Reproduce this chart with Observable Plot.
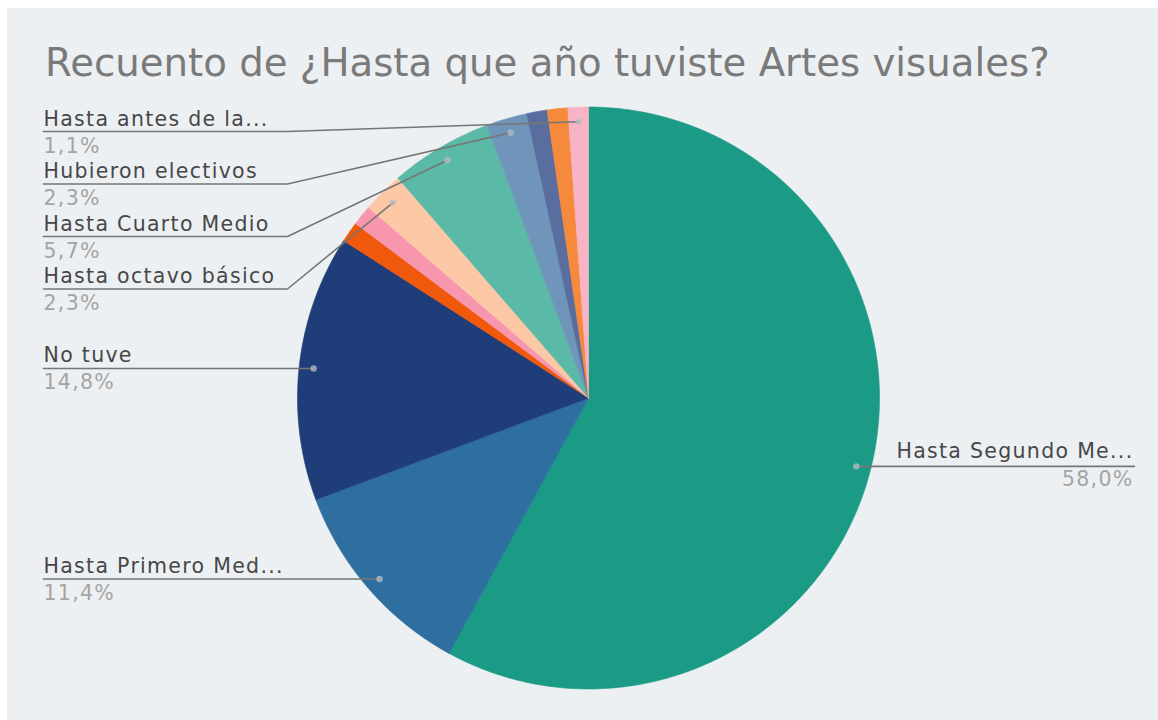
<!DOCTYPE html>
<html>
<head>
<meta charset="utf-8">
<script src="https://cdn.jsdelivr.net/npm/d3@7"></script>
<script src="https://cdn.jsdelivr.net/npm/@observablehq/plot@0.6"></script>
<style>
  body { margin: 0; background: #ffffff; }
  #panel { position: absolute; left: 7px; top: 8px; width: 1151px; height: 712px; background: #edf0f3; overflow: hidden; font-family: "DejaVu Sans", Verdana, sans-serif; }
  #title { position: absolute; left: 38px; top: 36px; font-size: 38.7px; line-height: 1; color: #7a7a7a; white-space: nowrap; }
  #chart { position: absolute; left: 0; top: 0; }
  #chart text { letter-spacing: 1.3px; }
</style>
</head>
<body>
<div id="panel">
  <div id="chart"></div>
  <div id="title">Recuento de ¿Hasta que año tuviste Artes visuales?</div>
</div>
<script>
// ---- data (clockwise from 12 o'clock) ----
const categories = [
  "Hasta Segundo Medio", "Hasta Primero Medio", "No tuve",
  "Hasta sexto básico", "Hasta séptimo básico", "Hasta octavo básico",
  "Hasta Cuarto Medio", "Hubieron electivos", "Hasta Tercero Medio",
  "Otro", "Hasta antes de la enseñanza media"
];
const counts = [51, 10, 13, 1, 1, 2, 5, 2, 1, 1, 1];
const displayLabels = [
  "Hasta Segundo Me...", "Hasta Primero Med...", "No tuve",
  null, null, "Hasta octavo básico",
  "Hasta Cuarto Medio", "Hubieron electivos", null,
  null, "Hasta antes de la..."
];
const colors = [
  "#1b9a86", "#2e6f9f", "#1f3d78",
  "#f0580b", "#f796ae", "#fdc8a6",
  "#5bbaa7", "#6f95bb", "#5a6d9f",
  "#f58a3c", "#f8b3c4"
];

// ---- layout ----
const W = 1151, H = 712;
const cx = 581, cy = 389.5, R = 291;
const leftX = 36, elbowX = 280, rightEnd = 1127;
const topLabelY = 123, labelGap = 52.5;

const rows = categories.map((c, i) => ({category: c, count: counts[i], label: displayLabels[i]}));
const total = d3.sum(counts);
const arcs = d3.pie().sort(null).value(d => d.count)(rows);

// slice polygons
const slicePts = [];
for (const a of arcs) {
  const c = a.data.category;
  const n = Math.max(2, Math.ceil((a.endAngle - a.startAngle) / (Math.PI / 360)));
  slicePts.push({category: c, px: cx, py: cy});
  for (let k = 0; k <= n; k++) {
    const t = a.startAngle + (a.endAngle - a.startAngle) * k / n;
    slicePts.push({category: c, px: cx + R * Math.sin(t), py: cy - R * Math.cos(t)});
  }
  slicePts.push({category: c, px: cx, py: cy});
}

// callouts
const fmt = v => (v * 100 / total).toFixed(1).replace(".", ",") + "%";
const callouts = arcs.filter(a => a.data.label).map(a => {
  const mid = (a.startAngle + a.endAngle) / 2;
  return {
    id: a.data.category, label: a.data.label, pct: fmt(a.data.count),
    dx: cx + 0.95 * R * Math.sin(mid), dy: cy - 0.95 * R * Math.cos(mid),
    side: mid < Math.PI ? "right" : "left"
  };
});
const left = callouts.filter(d => d.side === "left").sort((a, b) => a.dy - b.dy);
let prev = -Infinity;
for (const d of left) {
  d.ly = Math.max(d.dy, topLabelY, prev + labelGap);
  prev = d.ly;
}
const right = callouts.filter(d => d.side === "right");
for (const d of right) d.ly = d.dy;

const linePts = [];
for (const d of left) {
  linePts.push({id: d.id, px: leftX, py: d.ly});
  linePts.push({id: d.id, px: elbowX, py: d.ly});
  linePts.push({id: d.id, px: d.dx, py: d.dy});
}
for (const d of right) {
  linePts.push({id: d.id, px: d.dx, py: d.dy});
  linePts.push({id: d.id, px: rightEnd, py: d.ly});
}

const chart = Plot.plot({
  width: W, height: H,
  margin: 0,
  x: {domain: [0, W], range: [0, W], axis: null},
  y: {domain: [0, H], range: [0, H], axis: null},
  color: {type: "ordinal", domain: categories, range: colors},
  style: {background: "transparent", fontFamily: "'DejaVu Sans', Verdana, sans-serif"},
  marks: [
    Plot.line(slicePts, {x: "px", y: "py", z: "category", fill: "category", stroke: "category", strokeWidth: 0.6, curve: "linear"}),
    Plot.line(linePts, {x: "px", y: "py", z: "id", stroke: "#767676", strokeWidth: 1.6}),
    Plot.dot(callouts, {x: "dx", y: "dy", r: 3.2, fill: "#b9bec6", fillOpacity: 0.75, stroke: "none"}),
    Plot.text(left, {x: () => leftX, y: d => d.ly - 6, text: "label", textAnchor: "start", lineAnchor: "bottom", fontSize: 20.5, fill: "#474747"}),
    Plot.text(left, {x: () => leftX, y: d => d.ly + 21, text: "pct", textAnchor: "start", lineAnchor: "bottom", fontSize: 20.5, fill: "#a4a4a4"}),
    Plot.text(right, {x: () => rightEnd - 1, y: d => d.ly - 8, text: "label", textAnchor: "end", lineAnchor: "bottom", fontSize: 20.5, fill: "#474747"}),
    Plot.text(right, {x: () => rightEnd - 1, y: d => d.ly + 20, text: "pct", textAnchor: "end", lineAnchor: "bottom", fontSize: 20.5, fill: "#a4a4a4"})
  ]
});
document.getElementById("chart").append(chart);
</script>
</body>
</html>
